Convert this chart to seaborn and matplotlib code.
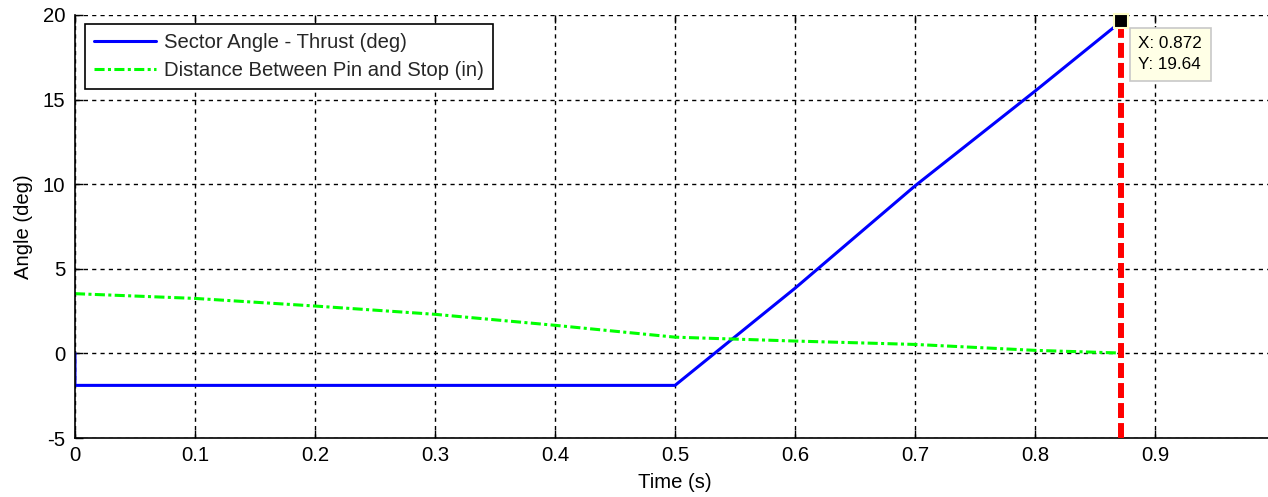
import matplotlib
matplotlib.use("Agg")
import matplotlib.pyplot as plt
import seaborn as sns

# ---- data ----
time_blue = [0.0, 0.0, 0.5, 0.6, 0.7, 0.8, 0.868]
angle_blue = [0.0, -1.89, -1.89, 3.85, 9.9, 15.5, 19.4]

time_green = [0.0, 0.1, 0.2, 0.3, 0.4, 0.5, 0.6, 0.7, 0.8, 0.872]
dist_green = [3.53, 3.25, 2.80, 2.31, 1.66, 0.96, 0.73, 0.53, 0.18, 0.02]

cursor_x = 0.872
cursor_y = 19.64

label_blue = "Sector Angle - Thrust (deg)"
label_green = "Distance Between Pin and Stop (in)"

xticks = [0.0, 0.1, 0.2, 0.3, 0.4, 0.5, 0.6, 0.7, 0.8, 0.9]
xtick_labels = ["0", "0.1", "0.2", "0.3", "0.4", "0.5", "0.6", "0.7", "0.8", "0.9"]
yticks = [-5, 0, 5, 10, 15, 20]
ytick_labels = ["-5", "0", "5", "10", "15", "20"]

x_label = "Time (s)"
y_label = "Angle (deg)"

# ---- style ----
sns.set_theme(style="white")
plt.rcParams["font.family"] = ["Liberation Sans", "DejaVu Sans"]
plt.rcParams["font.size"] = 14.6

fig = plt.figure(figsize=(12.68, 4.97), dpi=100)
ax = fig.add_axes([75 / 1268, 59 / 497, 1200 / 1268, 423 / 497])
ax.set_facecolor("white")

sns.lineplot(x=time_blue, y=angle_blue, ax=ax, color="#0000FF", linewidth=2.2,
             estimator=None, sort=False, label=label_blue)
sns.lineplot(x=time_green, y=dist_green, ax=ax, color="#00FF00", linewidth=2.2,
             linestyle=(0, (3.3, 1.1, 1.0, 1.1)),
             estimator=None, sort=False, label=label_green)

ax.axvline(cursor_x, color="#FF0000", linewidth=4.3,
           linestyle=(0, (2.5, 0.85)), zorder=4)
ax.plot([cursor_x], [cursor_y], marker="s", markersize=10,
        markerfacecolor="black", markeredgecolor="#FFFFC8",
        markeredgewidth=1.5, linestyle="none", clip_on=False, zorder=6)

ax.annotate(f"X: {cursor_x}\nY: {cursor_y}", xy=(cursor_x, cursor_y),
            xytext=(17, -15), textcoords="offset pixels",
            ha="left", va="top", fontsize=12.3, linespacing=1.5, color="black",
            bbox=dict(boxstyle="square,pad=0.5", facecolor="#FFFFE6",
                      edgecolor="#C8C8C8", linewidth=1.2),
            zorder=7, annotation_clip=False)

ax.set_xlim(0, 1)
ax.set_ylim(-5, 20)
ax.set_xticks(xticks)
ax.set_xticklabels(xtick_labels)
ax.set_yticks(yticks)
ax.set_yticklabels(ytick_labels)

ax.grid(True, color="black", linestyle=(0, (3, 3)), linewidth=1.0)
ax.set_axisbelow(True)

ax.tick_params(axis="both", direction="in", length=6, width=1.0,
               colors="black", labelsize=14.6, top=True, left=True, bottom=True)
ax.tick_params(axis="x", pad=5.5)
ax.tick_params(axis="y", pad=7)

for side in ["left", "bottom"]:
    ax.spines[side].set_color("black")
    ax.spines[side].set_linewidth(1.2)
ax.spines["top"].set_visible(False)
ax.spines["right"].set_color("black")

ax.set_xlabel(x_label, fontsize=14.6, color="black")
ax.set_ylabel(y_label, fontsize=14.6, color="black")
ax.xaxis.set_label_coords(0.5, -0.083)
ax.yaxis.set_label_coords(-0.035, 0.5)

leg = ax.legend(loc="upper left", bbox_to_anchor=(10 / 1200, (438 - 24) / 423),
                borderaxespad=0, fontsize=14.6, handlelength=3.05,
                handletextpad=0.4, borderpad=0.45, labelspacing=0.42,
                fancybox=False, shadow=False, framealpha=1, edgecolor="black",
                facecolor="white")
leg.get_frame().set_linewidth(1.2)

fig.savefig("out.png", dpi=100)
